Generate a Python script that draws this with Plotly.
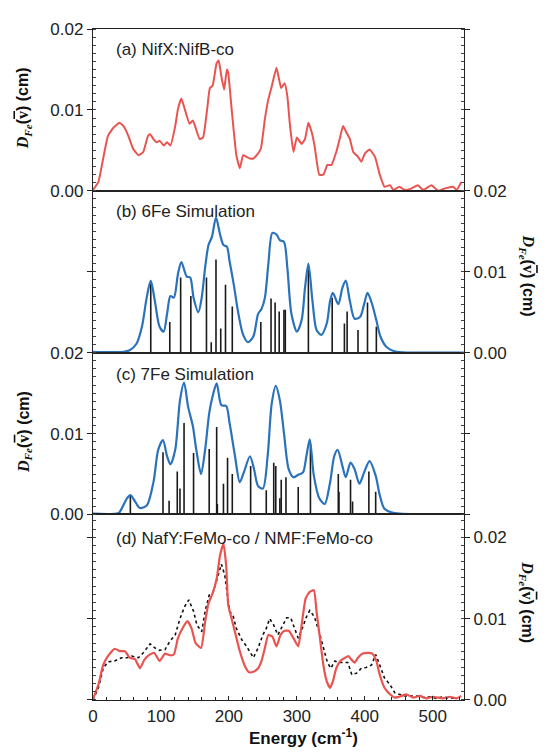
import plotly.graph_objects as go

# ---------------- data ----------------
# (a) NifX:NifB-co experimental PVDOS
a_energy = [0, 8, 15, 22, 30, 39, 45, 52, 59, 67,
            74, 81, 84, 89, 94, 98, 104, 109, 114, 121,
            125, 130, 135, 142, 147, 151, 157, 162, 168, 172,
            176, 182, 185, 189, 193, 197, 199, 204, 211, 216,
            221, 226, 231, 236, 241, 247, 253, 258, 263, 270,
            275, 277, 282, 286, 290, 295, 300, 307, 312, 317,
            322, 326, 333, 339, 345, 351, 358, 363, 368, 373,
            378, 383, 390, 395, 400, 407, 415, 422, 429, 437,
            442, 451, 459, 469, 478, 486, 498, 508, 518, 530,
            535, 542]
a_vals = [0.0001, 0.0011, 0.0040, 0.0068, 0.0078, 0.0084, 0.0080, 0.0068, 0.0052, 0.0044,
          0.0048, 0.0068, 0.0070, 0.0064, 0.0060, 0.0062, 0.0056, 0.0060, 0.0056, 0.0080,
          0.0101, 0.0114, 0.0101, 0.0083, 0.0087, 0.0078, 0.0064, 0.0066, 0.0101, 0.0127,
          0.0130, 0.0158, 0.0161, 0.0141, 0.0125, 0.0150, 0.0146, 0.0101, 0.0044, 0.0028,
          0.0044, 0.0042, 0.0040, 0.0040, 0.0044, 0.0052, 0.0089, 0.0113, 0.0129, 0.0152,
          0.0133, 0.0127, 0.0133, 0.0117, 0.0080, 0.0048, 0.0066, 0.0058, 0.0064, 0.0084,
          0.0072, 0.0056, 0.0020, 0.0020, 0.0032, 0.0032, 0.0048, 0.0064, 0.0080, 0.0072,
          0.0064, 0.0048, 0.0042, 0.0036, 0.0046, 0.0051, 0.0042, 0.0020, 0.0005, 0.0007,
          0.0001, 0.0005, 0.0001, 0.0003, 0.0007, 0.0001, 0.0007, 0.0000, 0.0003, 0.0005,
          0.0001, 0.0011]

# (b) 6Fe simulation
b_energy = [0, 45, 54, 64, 72, 79, 85, 91, 98, 104,
            109, 114, 119, 125, 130, 138, 143, 148, 155, 160,
            165, 170, 175, 181, 187, 192, 197, 201, 207, 214,
            221, 228, 236, 243, 248, 253, 258, 264, 270, 275,
            281, 286, 292, 300, 307, 312, 317, 323, 329, 336,
            344, 349, 353, 361, 367, 372, 378, 385, 393, 399,
            404, 410, 417, 423, 432, 447, 490, 546]
b_vals = [0.0001, 0.0001, 0.0003, 0.0011, 0.0032, 0.0068, 0.0089, 0.0064, 0.0032, 0.0026,
          0.0048, 0.0070, 0.0068, 0.0097, 0.0112, 0.0094, 0.0093, 0.0068, 0.0050, 0.0068,
          0.0105, 0.0133, 0.0143, 0.0167, 0.0146, 0.0133, 0.0131, 0.0113, 0.0085, 0.0048,
          0.0022, 0.0013, 0.0020, 0.0048, 0.0054, 0.0068, 0.0109, 0.0148, 0.0146, 0.0139,
          0.0137, 0.0105, 0.0048, 0.0026, 0.0040, 0.0080, 0.0110, 0.0064, 0.0028, 0.0022,
          0.0036, 0.0064, 0.0074, 0.0060, 0.0080, 0.0089, 0.0064, 0.0042, 0.0044, 0.0060,
          0.0074, 0.0062, 0.0040, 0.0020, 0.0007, 0.0001, 0.0000, 0.0000]
b_stick_energy = [85, 113, 129, 144, 167, 174, 181, 188, 195, 205,
                  247, 262, 268, 274, 281, 283, 317, 352, 370, 374,
                  390, 404, 417]
b_stick_vals = [0.0085, 0.0038, 0.0093, 0.0070, 0.0093, 0.0013, 0.0115, 0.0030, 0.0084, 0.0057,
                0.0038, 0.0067, 0.0062, 0.0051, 0.0053, 0.0053, 0.0105, 0.0068, 0.0036, 0.0051,
                0.0028, 0.0062, 0.0032]

# (c) 7Fe simulation
c_energy = [0, 38, 42, 50, 55, 62, 69, 79, 89, 96,
            103, 109, 114, 121, 128, 134, 140, 147, 152, 159,
            165, 171, 176, 182, 189, 196, 201, 209, 216, 222,
            231, 237, 243, 250, 257, 263, 269, 275, 281, 288,
            295, 302, 309, 314, 319, 325, 333, 341, 349, 355,
            360, 367, 372, 379, 385, 392, 399, 407, 416, 422,
            429, 442, 490, 546]
c_vals = [0.0001, 0.0002, 0.0007, 0.0020, 0.0024, 0.0016, 0.0008, 0.0011, 0.0040, 0.0080,
          0.0092, 0.0072, 0.0062, 0.0080, 0.0141, 0.0163, 0.0133, 0.0109, 0.0080, 0.0050,
          0.0080, 0.0125, 0.0146, 0.0162, 0.0135, 0.0134, 0.0113, 0.0072, 0.0040, 0.0052,
          0.0072, 0.0056, 0.0035, 0.0032, 0.0072, 0.0137, 0.0159, 0.0141, 0.0101, 0.0056,
          0.0046, 0.0049, 0.0052, 0.0072, 0.0093, 0.0048, 0.0020, 0.0013, 0.0040, 0.0072,
          0.0080, 0.0060, 0.0046, 0.0064, 0.0056, 0.0038, 0.0052, 0.0066, 0.0048, 0.0024,
          0.0007, 0.0002, 0.0000, 0.0000]
c_stick_energy = [55, 103, 112, 124, 128, 134, 148, 171, 182, 183,
                  192, 198, 205, 232, 255, 266, 269, 275, 277, 284,
                  302, 320, 361, 362, 379, 382, 406, 416]
c_stick_vals = [0.0024, 0.0077, 0.0017, 0.0053, 0.0032, 0.0113, 0.0076, 0.0081, 0.0108, 0.0013,
                0.0038, 0.0070, 0.0050, 0.0060, 0.0030, 0.0064, 0.0060, 0.0020, 0.0043, 0.0046,
                0.0034, 0.0087, 0.0050, 0.0028, 0.0043, 0.0016, 0.0053, 0.0028]

# (d) NafY:FeMo-co (red, solid) and NMF:FeMo-co (black, dotted)
d1_energy = [0, 8, 15, 22, 32, 40, 47, 54, 62, 69,
             76, 84, 90, 98, 106, 113, 119, 125, 133, 139,
             145, 151, 159, 165, 170, 176, 182, 187, 192, 196,
             199, 204, 210, 216, 224, 230, 237, 243, 248, 253,
             258, 264, 270, 276, 282, 288, 295, 302, 307, 313,
             319, 325, 329, 334, 339, 344, 349, 353, 358, 364,
             371, 376, 380, 385, 390, 397, 405, 411, 417, 422,
             429, 437, 444, 454, 461, 471, 481, 491, 500, 515,
             525, 535, 542]
d1_vals = [0.0001, 0.0019, 0.0043, 0.0054, 0.0063, 0.0060, 0.0060, 0.0052, 0.0050, 0.0039,
           0.0050, 0.0056, 0.0058, 0.0048, 0.0057, 0.0055, 0.0056, 0.0076, 0.0090, 0.0097,
           0.0088, 0.0070, 0.0064, 0.0096, 0.0119, 0.0131, 0.0149, 0.0178, 0.0192, 0.0165,
           0.0117, 0.0100, 0.0080, 0.0060, 0.0041, 0.0034, 0.0035, 0.0039, 0.0048, 0.0064,
           0.0080, 0.0078, 0.0066, 0.0080, 0.0085, 0.0085, 0.0076, 0.0066, 0.0092, 0.0125,
           0.0133, 0.0135, 0.0109, 0.0076, 0.0043, 0.0023, 0.0015, 0.0023, 0.0039, 0.0048,
           0.0052, 0.0054, 0.0050, 0.0046, 0.0052, 0.0057, 0.0058, 0.0057, 0.0048, 0.0031,
           0.0015, 0.0007, 0.0003, 0.0005, 0.0007, 0.0003, 0.0005, 0.0002, 0.0004, 0.0002,
           0.0004, 0.0002, 0.0005]
d2_energy = [0, 8, 15, 22, 32, 42, 50, 57, 67, 74,
             84, 91, 98, 106, 113, 121, 128, 135, 141, 148,
             153, 160, 165, 171, 177, 183, 189, 194, 198, 201,
             206, 211, 219, 226, 236, 243, 250, 255, 260, 266,
             272, 279, 285, 291, 296, 302, 308, 314, 319, 326,
             334, 340, 345, 350, 356, 362, 368, 375, 381, 388,
             395, 402, 410, 416, 422, 429, 437, 444, 451, 459,
             469, 478, 486, 496, 505, 515, 525, 535]
d2_vals = [0.0000, 0.0015, 0.0039, 0.0047, 0.0048, 0.0052, 0.0052, 0.0054, 0.0052, 0.0058,
           0.0069, 0.0064, 0.0061, 0.0062, 0.0072, 0.0080, 0.0100, 0.0115, 0.0123, 0.0109,
           0.0092, 0.0084, 0.0109, 0.0129, 0.0133, 0.0149, 0.0167, 0.0153, 0.0125, 0.0109,
           0.0104, 0.0088, 0.0074, 0.0066, 0.0052, 0.0064, 0.0080, 0.0088, 0.0100, 0.0092,
           0.0080, 0.0092, 0.0101, 0.0101, 0.0090, 0.0076, 0.0088, 0.0102, 0.0110, 0.0102,
           0.0080, 0.0060, 0.0046, 0.0039, 0.0048, 0.0046, 0.0046, 0.0046, 0.0031, 0.0033,
           0.0039, 0.0040, 0.0043, 0.0056, 0.0043, 0.0027, 0.0019, 0.0009, 0.0007, 0.0005,
           0.0005, 0.0005, 0.0003, 0.0004, 0.0002, 0.0004, 0.0002, 0.0003]

panel_labels = ["(a) NifX:NifB-co", "(b) 6Fe Simulation", "(c) 7Fe Simulation",
                "(d) NafY:FeMo-co / NMF:FeMo-co"]
y_title = ("<b><span style='font-family:Liberation Serif'><i>D</i><sub><i>Fe</i></sub></span>"
           "(<span style='font-family:Liberation Serif;text-decoration:overline'>v</span>) (cm)</b>")
x_title = "<b>Energy (cm<sup>-1</sup>)</b>"

# ---------------- styling ----------------
RED = "#ea5450"
BLUE = "#2a72bb"
STICK = "#1a1a1a"
AX = "#222222"
FONT = "Liberation Sans"


def sticks(xs, ys):
    sx, sy = [], []
    for e, v in zip(xs, ys):
        sx += [e, e, None]
        sy += [0, v, None]
    return sx, sy


fig = go.Figure()
fig.add_trace(go.Scatter(x=a_energy, y=a_vals, mode="lines", xaxis="x", yaxis="y",
                         line=dict(color=RED, width=2, shape="spline", smoothing=0.4)))

sx, sy = sticks(b_stick_energy, b_stick_vals)
fig.add_trace(go.Scatter(x=sx, y=sy, mode="lines", xaxis="x2", yaxis="y2",
                         line=dict(color=STICK, width=1.6)))
fig.add_trace(go.Scatter(x=b_energy, y=b_vals, mode="lines", xaxis="x2", yaxis="y2",
                         line=dict(color=BLUE, width=2.2, shape="spline", smoothing=0.8)))

sx, sy = sticks(c_stick_energy, c_stick_vals)
fig.add_trace(go.Scatter(x=sx, y=sy, mode="lines", xaxis="x3", yaxis="y3",
                         line=dict(color=STICK, width=1.6)))
fig.add_trace(go.Scatter(x=c_energy, y=c_vals, mode="lines", xaxis="x3", yaxis="y3",
                         line=dict(color=BLUE, width=2.2, shape="spline", smoothing=0.8)))

fig.add_trace(go.Scatter(x=d2_energy, y=d2_vals, mode="lines", xaxis="x4", yaxis="y4",
                         line=dict(color="#111111", width=1.6, dash="dot")))
fig.add_trace(go.Scatter(x=d1_energy, y=d1_vals, mode="lines", xaxis="x4", yaxis="y4",
                         line=dict(color=RED, width=2.2, shape="spline", smoothing=0.5)))

# The page body has an 8px default margin, so the figure is sized/offset to match.
H = 680.0
W = 371.0
domains = [[516 / H, 1.0], [352 / H, 516 / H], [188 / H, 352 / H], [0.0, 188 / H]]
yranges = [[0, 0.02], [0, 0.02], [0, 0.02], [0, 0.0228]]
sides = ["left", "right", "left", "right"]
layout = dict(
    width=540, height=745,
    margin=dict(l=85, r=84, t=12, b=53),
    paper_bgcolor="white", plot_bgcolor="white",
    showlegend=False,
    font=dict(family=FONT, size=17, color=AX),
)
for i in range(4):
    xn = "xaxis" if i == 0 else f"xaxis{i+1}"
    yn = "yaxis" if i == 0 else f"yaxis{i+1}"
    xa = "x" if i == 0 else f"x{i+1}"
    ya = "y" if i == 0 else f"y{i+1}"
    last = (i == 3)
    xaxis = dict(
        domain=[0, 1], anchor=ya, range=[0, 546],
        showline=True, linecolor=AX, linewidth=1.3, mirror=True,
        showgrid=False, zeroline=False,
        showticklabels=last, tick0=0, dtick=100,
        ticks="inside" if last else "", ticklen=4, tickcolor=AX,
        tickfont=dict(size=17),
    )
    if last:
        xaxis["minor"] = dict(dtick=20, ticks="inside", ticklen=3, tickcolor=AX, showgrid=False)
    layout[xn] = xaxis
    layout[yn] = dict(
        domain=domains[i], anchor=xa, range=yranges[i], side=sides[i],
        showline=True, linecolor=AX, linewidth=1.3, mirror="ticks",
        showgrid=False, zeroline=False,
        tick0=0, dtick=0.01, tickformat=".2f",
        ticks="outside", ticklen=5, tickcolor=AX,
        minor=dict(dtick=0.001, ticks="inside", ticklen=3, tickcolor="#444444", showgrid=False),
        tickfont=dict(size=17),
        showticklabels=True,
    )

annotations = []
label_y = [(700 - 41) / H, (700 - 205) / H, (700 - 370) / H, (700 - 536) / H]
for i, txt in enumerate(panel_labels):
    annotations.append(dict(text=txt, xref="paper", yref="paper", x=(114 - 93) / W,
                            y=label_y[i], xanchor="left", yanchor="middle",
                            showarrow=False, font=dict(size=17, color=AX)))
# y titles
title_pos = [(-0.185, (700 - 100) / H, -90), (1.17, (700 - 270) / H, 90),
             (-0.185, (700 - 428) / H, -90), (1.17, (700 - 601) / H, 90)]
for (x, y, ang) in title_pos:
    annotations.append(dict(text=y_title, xref="paper", yref="paper", x=x, y=y,
                            textangle=ang, showarrow=False, xanchor="center", yanchor="middle",
                            font=dict(size=16, color="#111111")))
annotations.append(dict(text=x_title, xref="paper", yref="paper", x=(303 - 93) / W,
                        y=(700 - 738) / H, showarrow=False, xanchor="center", yanchor="middle",
                        font=dict(size=17, color="#111111")))
layout["annotations"] = annotations

fig.update_layout(**layout)
fig.write_html("out.html")
